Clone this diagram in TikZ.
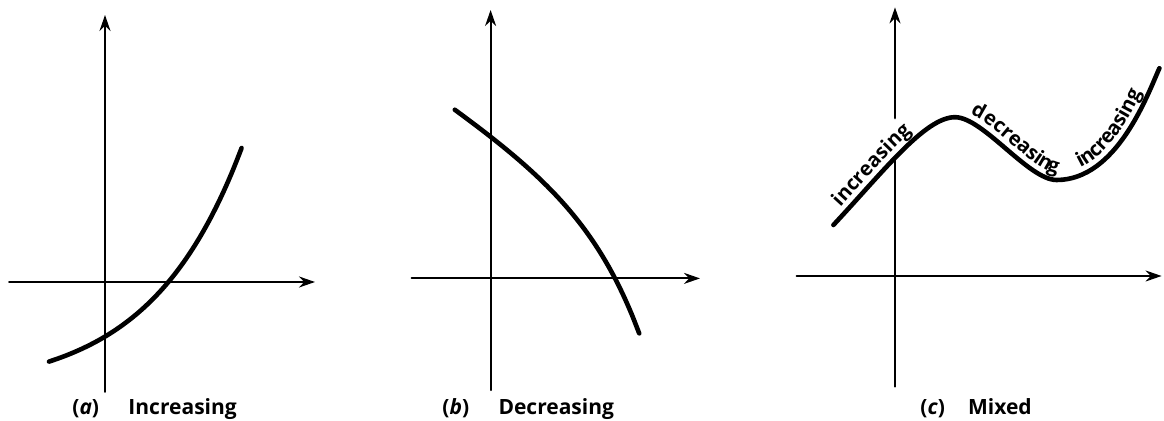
\documentclass[tikz,border=0pt]{standalone}
\usepackage{fontspec}
\setmainfont{Open Sans}
\usetikzlibrary{arrows.meta,decorations.text}
\tikzset{
  axis/.style={line width=1.1pt},
  curve/.style={line width=2.3pt},
  figlbl/.style={anchor=base west, inner sep=0pt, font=\fontsize{10.5pt}{12pt}\selectfont\bfseries},
  along/.style 2 args={decorate, decoration={text along path, raise=3.5pt,
      text={|\fontsize{10pt}{10pt}\selectfont\bfseries|#1}, text align={left indent=#2}}}
}
\begin{document}
\begin{tikzpicture}[line join=round, line cap=round, >={Stealth[length=8pt,width=5.5pt]}, x=10pt, y=10pt]
	\useasboundingbox (0,0) rectangle (58.2,-21.05);
	% (a) increasing
	\begin{scope}[shift={(5.25,-14.1)}]
		\draw[axis,->] (-4.79,0)--(10.5,0);
		\draw[axis,->] (0,-5.49)--(0,13.35);
		\draw[curve,domain=-2.8:6.83,smooth,variable=\x]
		plot (\x,{2.73*exp(0.2187*\x)-5.46});
	\end{scope}
	% (b) decreasing
	\begin{scope}[shift={(24.53,-13.92)}]
		\draw[axis,->] (-3.95,0)--(10.47,0);
		\draw[axis,->] (0,-5.58)--(0,13.42);
		\draw[curve,domain=-1.79:7.43,smooth,variable=\x]
		plot (\x,{7.08-0.682*\x-0.257*(exp(0.4*\x)-1)});
	\end{scope}
	% (c) mixed
	\begin{scope}[shift={(44.75,-13.8)}]
		\coordinate (c0) at (-3.08,2.55);
		\coordinate (c1) at (3,7.94);
		\coordinate (c2) at (8.08,4.8);
		\coordinate (c3) at (13.22,10.39);
		\draw[axis,->] (-4.92,0)--(13.33,0);
		\draw[axis] (0,-5.53)--(0,5.8);
		\draw[axis,->] (0,7.89)--(0,13.43);
		\draw[curve] (c0) .. controls (-0.6,5.2) and (1.5,7.94) .. (c1)
		.. controls (4.4,7.94) and (6.68,4.8) .. (c2)
		.. controls (11.08,4.8) and (12.61,9.02) .. (c3);
		\path[along={increasing}{9pt}] (c0) .. controls (-0.6,5.2) and (1.5,7.94) .. (c1);
		\path[along={decreasing}{6pt}] (c1) .. controls (4.4,7.94) and (6.68,4.8) .. (c2);
		\path[along={increasing}{14pt}] (c2) .. controls (11.08,4.8) and (12.61,9.02) .. (c3);
	\end{scope}
	\node[figlbl] (capa) at (3.6,-20.75) {(\textit{a})\hspace{1.4em}Increasing};
	\node[figlbl] (capb) at (22.1,-20.75) {(\textit{b})\hspace{1.4em}Decreasing};
	\node[figlbl] (capc) at (46,-20.75) {(\textit{c})\hspace{1.1em}Mixed};
\end{tikzpicture}
\end{document}
